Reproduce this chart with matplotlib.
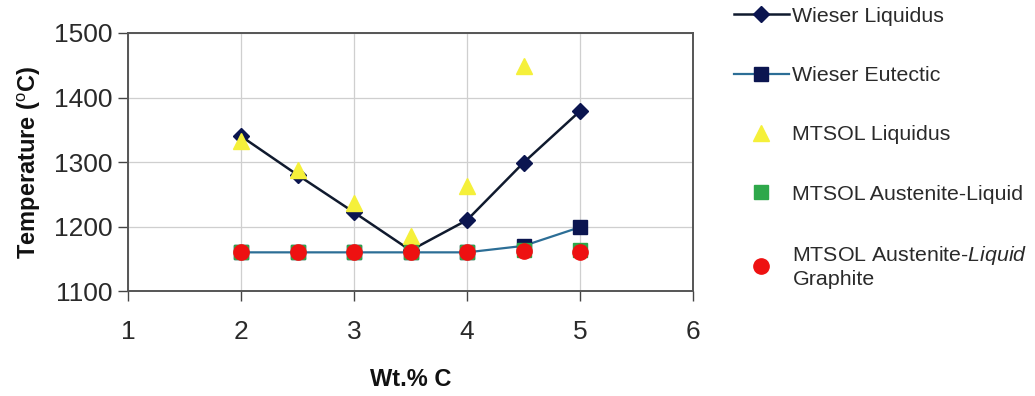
import matplotlib
matplotlib.use("Agg")
import matplotlib.pyplot as plt

plt.rcParams['font.family'] = ['Liberation Sans', 'DejaVu Sans']
plt.rcParams['mathtext.fontset'] = 'custom'
plt.rcParams['mathtext.rm'] = 'Liberation Sans'
plt.rcParams['mathtext.it'] = 'Liberation Sans:italic'
plt.rcParams['mathtext.bf'] = 'Liberation Sans:bold'

# Carbon content (wt.%)
carbon = [2.0, 2.5, 3.0, 3.5, 4.0, 4.5, 5.0]

# Temperatures (°C)
wieser_liquidus = [1340, 1280, 1222, 1163, 1210, 1299, 1379]
wieser_eutectic = [1160, 1160, 1160, 1160, 1160, 1170, 1199]
mtsol_liquidus = [1333, 1287, 1236, 1186, 1263, 1449, None]
mtsol_aust_liquid = [1160, 1160, 1160, 1160, 1160, 1163, 1163]
mtsol_aust_liquid_graphite = [1160, 1160, 1160, 1160, 1160, 1162, 1160]

x_ticks = [1, 2, 3, 4, 5, 6]
y_ticks = [1100, 1200, 1300, 1400, 1500]

fig = plt.figure(figsize=(10.35, 3.96), dpi=100)
ax = fig.add_axes([0.1237, 0.265, 0.5459, 0.6517])

navy = '#0b1550'
ax.plot(carbon, wieser_liquidus, color='#101a2e', lw=1.8, marker='D',
        ms=8, mfc=navy, mec=navy, label='Wieser Liquidus', zorder=3)
ax.plot(carbon, wieser_eutectic, color='#2c6e96', lw=1.6, marker='s',
        ms=10, mfc=navy, mec=navy, label='Wieser Eutectic', zorder=3)

liq_x = [c for c, v in zip(carbon, mtsol_liquidus) if v is not None]
liq_y = [v for v in mtsol_liquidus if v is not None]
ax.plot(liq_x, liq_y, ls='none', marker='^', ms=11, mfc='#f5f03a',
        mec='#f5f03a', label='MTSOL Liquidus', zorder=4)
ax.plot(carbon, mtsol_aust_liquid, ls='none', marker='s', ms=10,
        mfc='#2ea84a', mec='#2ea84a', label='MTSOL Austenite-Liquid', zorder=4)
ax.plot(carbon, mtsol_aust_liquid_graphite, ls='none', marker='o', ms=11,
        mfc='#ee1111', mec='#ee1111',
        label='MTSOL Austenite-$\\mathit{Liquid}$\nGraphite', zorder=5)

ax.set_xlim(1, 6)
ax.set_ylim(1100, 1500)
ax.set_xticks(x_ticks)
ax.set_yticks(y_ticks)
ax.tick_params(axis='both', labelsize=19, colors='#444444', length=7,
               direction='out', width=1, labelcolor='#2a2a2a')
ax.tick_params(axis='x', pad=14)
ax.tick_params(axis='y', pad=4)
ax.grid(True, color='#cfcfcf', lw=0.9)
ax.set_axisbelow(True)
for sp in ax.spines.values():
    sp.set_color('#555555')
    sp.set_linewidth(1.4)

ax.set_xlabel('Wt.% C', fontsize=17, fontweight='bold', labelpad=17,
              color='#111111')
ax.set_ylabel('Temperature ($^{\\mathrm{o}}$C)', fontsize=17,
              fontweight='bold', labelpad=8, color='#111111')

handles, labels = ax.get_legend_handles_labels()
leg = fig.legend(handles, labels, loc='upper left',
                 bbox_to_anchor=(0.7005, 1.004), frameon=False,
                 fontsize=15.4, handlelength=2.6, handletextpad=0.15,
                 labelspacing=1.88, borderaxespad=0)
for t in leg.get_texts():
    t.set_color('#2a2a2a')

fig.savefig('out.png', dpi=100)
